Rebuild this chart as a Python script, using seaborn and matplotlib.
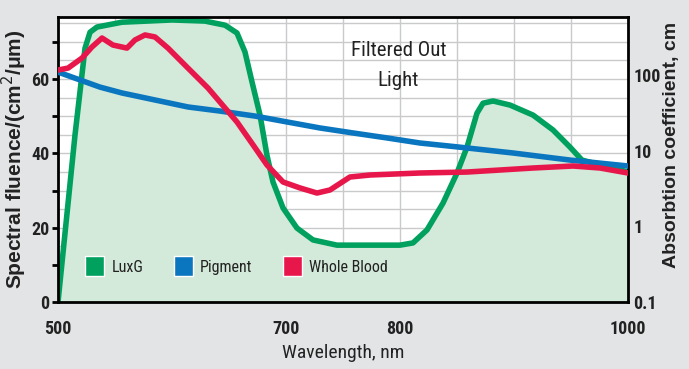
import numpy as np
import pandas as pd
import matplotlib
matplotlib.use("Agg")
import matplotlib.pyplot as plt
from matplotlib.patches import Patch
import seaborn as sns

# ---- data ----
luxg_nm = [500, 514.9, 523.7, 528.1, 534.2, 556.1, 600, 628.9, 646.5, 657.0, 664.0, 670.2, 677.2, 683.3,
           688.6, 697.4, 709.6, 723.7, 744.7, 773.7, 800, 811.4, 823.7, 837.7, 850, 858.8, 867.5, 872.8,
           881.6, 896.5, 916.7, 934.2, 949.1, 959.6, 975.4, 1000]
luxg_val = [0, 44.9, 68.3, 72.6, 74.0, 75.3, 75.9, 75.6, 74.5, 72.4, 67.3, 59.2, 50.3, 39.5,
            32.3, 25.3, 19.9, 16.7, 15.3, 15.3, 15.3, 15.9, 19.4, 26.6, 34.7, 41.7, 50.8, 53.5,
            54.1, 53.0, 50.3, 46.3, 41.7, 38.2, 36.9, 35.0]

blood_nm = [500, 508.8, 521.1, 529.8, 538.6, 548.2, 560.5, 567.5, 576.3, 585.1, 596.5, 614.0, 631.6, 646.5,
            657.0, 671.1, 683.3, 697.4, 712.3, 727.2, 738.6, 756.1, 773.7, 817.5, 858.8, 916.7, 951.8,
            975.4, 1000]
blood_val = [116, 123, 167, 234, 307, 248, 226, 289, 337, 317, 226, 123, 67, 36.6,
             23.9, 11.9, 6.46, 3.85, 3.21, 2.75, 3.02, 4.48, 4.76, 5.06, 5.21, 5.89, 6.26,
             5.89, 5.06]

pig_nm = [500, 536.8, 556.1, 614.0, 642.1, 672.8, 700.9, 729.8, 758.8, 788.6, 817.5, 850, 899.1, 949.1, 1000]
pig_val = [109, 69, 57.7, 37.7, 33.3, 28.6, 23.9, 19.9, 17.1, 14.7, 12.6, 11.2, 9.3, 7.5, 6.26]

x_ticklabels = {500: "500", 700: "700", 800: "800", 1000: "1000"}
left_ticklabels = [0, 20, 40, 60]
right_ticks = [0.1, 1, 10, 100]
right_ticklabels = ["0.1", "1", "10", "100"]

GREEN = "#00a05e"
BLUE = "#0a76bf"
RED = "#e8174b"
FILL = "#d3e9da"
BG = "#e3e4e6"
TXT = "#222222"

COND = ["Roboto Condensed", "Barlow Semi Condensed", "Archivo Narrow", "Liberation Sans Narrow", "DejaVu Sans"]
BOLDF = ["Liberation Sans", "DejaVu Sans"]

sns.set_theme(style="white")
plt.rcParams["font.family"] = COND

fig = plt.figure(figsize=(6.89, 3.69), dpi=100, facecolor=BG)
ax = fig.add_axes([58 / 689, 67 / 369, 570 / 689, 285 / 369])
ax.set_facecolor("white")

lux = pd.DataFrame({"nm": luxg_nm, "val": luxg_val})
blood = pd.DataFrame({"nm": blood_nm, "val": blood_val})
pig = pd.DataFrame({"nm": pig_nm, "val": pig_val})

ax.fill_between(lux["nm"], 0, lux["val"], color=FILL, zorder=1, lw=0)

ax.set_xlim(500, 1000)
ax.set_ylim(0, 76.7)
xt = np.arange(500, 1001, 50)
ax.set_xticks(xt)
ax.set_xticklabels([x_ticklabels.get(int(v), "") for v in xt], fontweight="bold", fontsize=13, color=TXT)
yt = np.arange(0, 71, 10)
ax.set_yticks(yt)
ax.set_yticklabels([str(v) if v in left_ticklabels else "" for v in yt], fontweight="bold", fontsize=13,
                   color=TXT)
for v in np.arange(5, 76, 5):
    ax.axhline(v, color="#c9cacc", lw=1, zorder=0.5)
for v in np.arange(550, 1000, 50):
    ax.axvline(v, color="#c9cacc", lw=1, zorder=0.5)
ax.tick_params(axis="both", direction="out", length=4, width=2, color="black")
ax.tick_params(axis="x", pad=9)
ax.tick_params(axis="y", pad=2)
for s in ax.spines.values():
    s.set_color("black")
    s.set_linewidth(2)
    s.set_zorder(10)

ax2 = ax.twinx()
ax2.set_yscale("log")
ax2.set_ylim(0.1, 582)

sns.lineplot(data=lux, x="nm", y="val", ax=ax, color=GREEN, lw=4, zorder=3,
             solid_capstyle="round", solid_joinstyle="round")
sns.lineplot(data=pig, x="nm", y="val", ax=ax2, color=BLUE, lw=4, zorder=4,
             solid_capstyle="round", solid_joinstyle="round")
sns.lineplot(data=blood, x="nm", y="val", ax=ax2, color=RED, lw=4, zorder=5,
             solid_capstyle="round", solid_joinstyle="round")

ax2.set_yticks(right_ticks)
ax2.set_yticklabels(right_ticklabels, fontweight="bold", fontsize=13, color=TXT)
ax2.yaxis.set_minor_locator(matplotlib.ticker.NullLocator())
ax2.tick_params(axis="y", length=0, pad=4)
for s in ax2.spines.values():
    s.set_visible(False)

ax.set_xlabel("Wavelength, nm", fontsize=14, labelpad=4, color=TXT)
ax.set_ylabel("Spectral fluence/(cm$^2$/μm)", fontsize=15, fontweight="bold",
              family=BOLDF, labelpad=0, color=TXT)
ax.yaxis.set_label_coords(-0.05, 0.5)
ax2.set_ylabel("Absorbtion coefficient, cm", fontsize=14, fontweight="bold",
               family=BOLDF, labelpad=8, color=TXT)
ax2.yaxis.set_label_coords(1.062, 0.55)

ax2.text(0.597, 0.83, "Filtered Out\nLight", transform=ax2.transAxes, ha="center", va="center",
         fontsize=15, linespacing=1.75, color=TXT)

handles = [Patch(facecolor=GREEN, label="LuxG"), Patch(facecolor=BLUE, label="Pigment"),
           Patch(facecolor=RED, label="Whole Blood")]
leg = ax2.legend(handles=handles, loc="lower left", bbox_to_anchor=(0.025, 0.045), ncol=3, frameon=False,
                 fontsize=11.5, handlelength=1.2, handleheight=1.55, columnspacing=1.9, handletextpad=0.45,
                 borderpad=0.3)
for t in leg.get_texts():
    t.set_color(TXT)

fig.savefig("out.png", dpi=100, facecolor=BG)
